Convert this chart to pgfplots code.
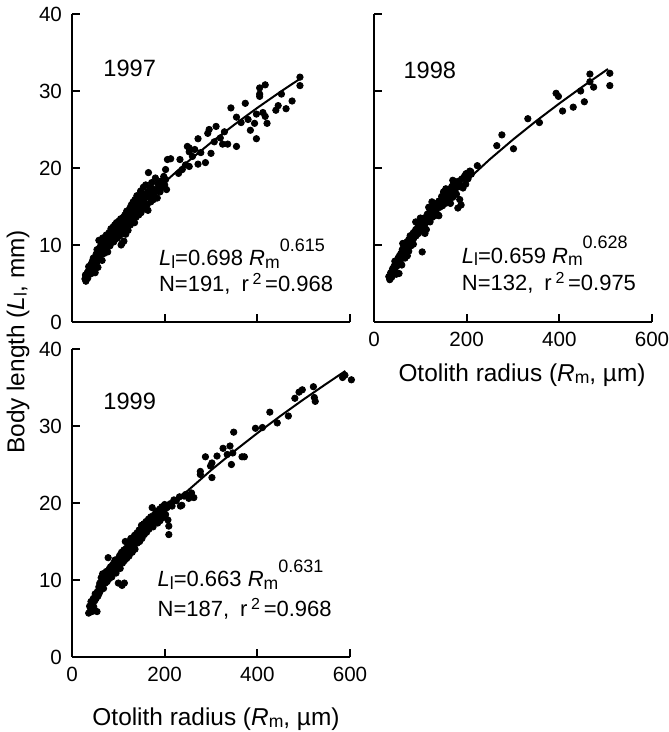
\documentclass[border=0pt]{standalone}
\usepackage{fontspec}
\setmainfont{Liberation Sans}
\usepackage{pgfplots}
\pgfplotsset{compat=1.18}

\newcommand{\fs}{\fontsize{11}{13}\selectfont}
\newcommand{\fyear}{\fontsize{11.8}{14}\selectfont}
\newcommand{\flab}{\fontsize{12.2}{14}\selectfont}
% sub- and superscripts sized and placed as in the figure
\newcommand{\sub}[1]{\raisebox{-1.2pt}{\fontsize{8.8}{10}\selectfont #1}}
\newcommand{\expo}[1]{\raisebox{7.3pt}{\fontsize{9}{10}\selectfont #1}}
\newcommand{\sq}{\raisebox{3.5pt}{\fontsize{8}{9}\selectfont 2}}

\pgfplotsset{
  panel/.style={
    width=139pt, height=154pt, scale only axis,
    xmin=0, xmax=600, ymin=0, ymax=40,
    enlargelimits=false,
    xtick={0,200,400,600}, ytick={0,10,20,30,40},
    axis x line=bottom, axis y line=left,
    axis line style={-, line width=1.25pt},
    tick align=inside, major tick length=4pt,
    tick style={line width=1.1pt, black},
    tick label style={font=\fontsize{10.3}{12}\selectfont},
    /pgf/number format/assume math mode=true,
    xticklabel style={yshift=-1.5pt},
    yticklabel style={xshift=-1.5pt},
    clip=false,
  },
  dots/.style={only marks, mark=*, mark size=1.6pt, black},
  fit/.style={no marks, black, line width=1pt},
}
\tikzset{
  txt/.style={anchor=base west, inner sep=0pt, font=\fs},
  yr/.style={anchor=base west, inner sep=0pt, font=\fyear},
}

\begin{document}
\begin{tikzpicture}
\path[use as bounding box] (0,0) rectangle (334pt,366pt);

% ---- 1997 ----
\begin{axis}[panel, at={(36pt,205pt)}, anchor=south west, xticklabels={}]
\addplot[dots] coordinates {
(28,5.6)(29,6.1)(30,5.3)(31,5.9)(33,6.4)(34,5.7)(35,6.6)(36,7.2)(38,6.2)(39,7.0)
(40,6.8)(41,7.5)(42,6.3)(44,7.9)(45,7.2)(46,8.3)(47,6.9)(48,7.6)(50,8.1)(50,6.4)
(52,8.8)(53,7.7)(54,9.4)(55,8.4)(56,7.1)(57,9.0)(58,10.6)(59,8.2)(60,9.7)(62,8.8)
(63,10.1)(64,9.3)(65,8.0)(66,10.9)(67,9.6)
(68,10.2)(69,8.9)(70,9.9)(71,10.8)(72,9.4)(73,10.4)(74,11.3)(75,9.8)(76,10.6)(77,9.1)
(78,11.0)(79,10.2)(80,11.6)(81,10.7)(82,9.9)(83,11.2)(84,12.1)(85,10.5)(86,11.5)(87,10.9)
(88,12.3)(89,11.1)(90,10.4)(91,11.8)(92,12.6)(93,11.3)(94,10.8)(95,12.0)(96,12.9)(97,11.6)
(98,10.9)(99,12.3)(100,11.7)(101,13.1)(102,12.0)(103,11.2)(104,12.7)(105,13.4)(106,11.9)(106,10.0)
(107,12.4)(108,10.2)(109,13.0)(110,12.2)(111,13.6)(112,11.7)(112,10.5)(113,12.8)(114,13.9)(115,12.5)
(116,11.4)(117,13.2)(118,14.4)(119,12.9)(120,13.5)(121,11.9)(122,14.1)
(124,13.0)(125,14.8)(126,12.6)(127,13.7)(128,15.2)(129,14.2)(130,13.3)(131,14.9)(132,15.6)(133,13.8)
(134,14.5)(135,12.9)(136,15.9)(137,14.3)(138,13.6)(139,15.1)(140,16.4)(141,14.0)(142,14.8)(143,15.5)
(144,13.9)(145,16.2)(146,14.6)(147,15.3)(148,17.0)(149,14.2)(150,15.8)(152,16.6)(153,15.0)(154,17.5)
(155,14.7)(156,16.1)(158,15.4)(159,17.8)(160,16.5)(162,15.2)(163,16.9)(164,14.5)(165,19.4)(166,16.2)
(168,17.4)(170,15.6)(172,18.1)(173,16.8)(175,17.3)(176,15.9)(178,16.4)(180,18.7)(182,17.1)(184,16.1)
(185,18.0)(188,17.6)(190,16.9)(192,18.3)(195,17.5)(198,18.9)(200,17.8)(202,19.8)(202,18.5)(204,17.2)
(206,21.1)(213,21.2)(230,19.3)(233,21.1)(238,19.8)(245,20.4)(249,22.8)(253,22.6)(253,22.1)(253,20.2)
(260,21.5)(265,22.4)(272,20.5)(272,23.8)(278,22.0)(288,20.7)(293,24.5)(296,25.0)(300,21.9)(307,23.4)
(311,25.4)(320,23.9)(325,23.1)(329,24.7)(336,23.1)(343,27.8)(355,22.8)(355,26.6)(365,25.9)(374,28.4)
(380,26.3)(385,24.9)(394,25.8)(398,23.8)(398,27.0)(405,30.4)(405,29.6)(405,29.3)(412,27.2)(417,26.7)
(417,30.8)(421,25.8)(440,27.5)(445,28.1)(452,29.6)(462,27.7)(475,28.7)(492,31.8)(492,30.7)
};
\addplot[fit] coordinates {
(30,5.65)(40,6.75)(50,7.74)(60,8.66)(70,9.52)(80,10.33)(90,11.11)(100,11.85)(120,13.26)(140,14.58)
(160,15.83)(180,17.02)(200,18.16)(250,20.83)(300,23.30)(350,25.61)(400,27.81)(450,29.90)(495,31.70)
};
\node[yr] at (axis cs:67,31.9) {1997};
\node[txt] at (axis cs:187,7.3)
  {\textit{L}\sub{l}=0.698 \textit{R}\sub{m}\expo{0.615}};
\node[txt] at (axis cs:187,3.9)
  {N=191,\enspace r\,\sq\,=0.968};
\end{axis}

% ---- 1998 ----
\begin{axis}[panel, at={(187pt,205pt)}, anchor=south west, yticklabels={}]
\addplot[dots] coordinates {
(32,5.9)(34,5.5)(36,6.4)(38,5.8)(40,6.9)(41,6.3)(43,7.2)(45,6.8)(46,7.6)(48,6.2)
(49,7.9)(50,7.3)(52,8.3)(53,7.7)(54,6.3)(55,8.6)(57,8.0)(58,8.9)(60,8.4)(61,9.4)
(63,8.8)(64,9.9)(65,9.1)(67,8.3)(68,10.0)(70,9.5)(71,10.4)(72,8.6)(73,9.8)(75,10.7)
(76,10.1)(78,11.2)(79,10.4)(80,9.9)(82,11.0)(83,10.6)(85,11.6)(86,10.9)(88,11.4)(90,12.0)
(91,11.2)(93,11.7)(95,12.4)(96,11.5)(98,12.1)(100,12.8)(101,11.9)(103,12.4)(104,9.1)(105,13.1)
(107,12.5)(108,13.5)(110,12.7)(112,13.3)(113,12.0)(115,14.0)(116,13.1)(118,13.7)(120,14.3)(121,13.0)
(123,13.9)(125,14.7)(126,13.6)(128,14.3)(130,15.0)(131,13.8)(133,14.5)(135,15.4)(137,14.9)(138,13.9)
(140,15.7)(142,14.9)(144,15.5)(146,16.3)(148,15.1)(150,15.8)(152,16.7)(154,15.4)(156,16.2)(158,17.1)
(160,16.5)(162,15.6)(164,17.3)(166,16.8)(168,17.6)(170,16.2)(172,17.9)(174,17.0)(176,18.2)(178,16.6)
(180,17.5)(181,14.8)(183,18.3)(185,15.9)(186,17.8)(188,15.2)(190,18.6)(192,17.4)(195,18.9)(198,17.9)
(198,19.2)(200,19.3)(203,18.6)(207,19.6)(209,19.5)(210,19.2)(223,20.3)
(45,7.9)(60,7.4)(75,9.2)(90,13.0)(110,11.5)(125,15.6)(140,13.8)(150,16.9)(165,15.4)(170,18.4)
(155,17.3)(118,14.9)(85,10.1)(62,10.2)(100,13.5)(135,14.1)
(265,22.9)(276,24.3)(301,22.5)(332,26.4)(357,25.9)(393,29.7)(398,29.3)(407,27.4)(430,27.9)(446,30.0)
(454,28.6)(466,32.2)(466,31.2)(474,30.5)(509,32.3)(509,30.7)
};
\addplot[fit] coordinates {
(30,5.58)(40,6.68)(50,7.69)(60,8.62)(80,10.33)(100,11.88)(120,13.32)(140,14.68)(160,15.96)(180,17.19)
(200,18.36)(250,21.13)(300,23.69)(350,26.10)(400,28.38)(450,30.56)(500,32.65)(505,32.85)
};
\node[yr] at (axis cs:63,31.6) {1998};
\node[txt] at (axis cs:189,7.6)
  {\textit{L}\sub{l}=0.659 \textit{R}\sub{m}\expo{0.628}};
\node[txt] at (axis cs:189,4.1)
  {N=132,\enspace r\,\sq\,=0.975};
\end{axis}

% ---- 1999 ----
\begin{axis}[panel, at={(36pt,37.5pt)}, anchor=south west]
\addplot[dots] coordinates {
(36,5.7)(38,6.6)(40,6.3)(41,7.2)(43,5.9)(44,6.9)(46,7.6)(47,6.5)(49,7.3)(50,8.2)
(52,7.6)(54,5.9)(55,8.5)(56,7.9)(58,9.1)(59,8.3)(60,9.6)(62,8.7)(63,10.3)(64,9.2)
(66,10.8)(67,9.5)(68,8.9)(70,10.1)(71,10.7)(72,9.6)(74,11.1)(75,10.3)(76,9.8)(78,12.9)
(78,10.9)(80,11.4)(81,10.2)(83,11.7)(84,10.8)(86,10.4)(87,11.9)(88,11.3)(90,12.2)(91,11.0)
(93,12.6)(94,11.6)(95,10.9)(97,12.3)(98,11.7)(100,9.6)(100,12.8)(101,12.0)(103,13.2)(104,11.5)
(106,12.6)(107,13.6)(108,9.3)(109,12.2)(110,13.0)(112,13.9)(113,9.6)(113,12.5)(115,15.0)(115,13.3)
(117,14.1)(118,12.8)(120,13.7)(121,14.5)(123,13.1)(124,14.9)(126,13.9)(127,15.4)(129,14.3)(130,13.6)
(132,15.1)(133,14.5)(135,15.8)(136,14.0)(138,15.3)(140,16.1)(141,14.8)(143,15.6)(145,16.5)(146,15.0)
(148,16.0)(150,17.1)(151,15.4)(153,16.4)(155,17.3)(156,15.9)(158,16.8)(160,17.6)(161,16.2)(163,17.0)
(165,17.9)(166,16.6)(168,17.3)(170,18.2)(172,17.5)(173,19.4)(175,16.9)(176,17.8)(178,18.5)(180,17.9)
(182,18.9)(184,18.8)(185,17.4)(187,18.3)(189,19.2)(190,17.7)(192,18.6)(194,19.5)(196,18.1)(198,19.0)
(200,19.8)(202,18.5)(205,19.4)(207,17.8)(209,17.0)(209,15.9)(212,19.9)(216,19.6)(220,20.4)(225,20.3)
(232,20.8)(234,19.6)(237,19.7)(242,20.9)(245,21.1)(248,21.0)(252,20.6)(258,21.3)(263,20.7)
(277,24.1)(277,23.7)(288,26.0)(299,24.8)(302,25.2)(302,23.3)(313,26.1)(326,27.1)(335,26.3)(341,27.4)
(344,25.0)(347,26.5)(349,29.2)(367,26.0)(372,26.0)(396,29.7)(411,29.8)(427,31.8)(443,30.4)(467,31.3)
(481,33.6)(490,34.4)(497,34.7)(521,35.1)(523,33.7)(525,33.2)(584,36.3)(589,36.6)(603,36.0)
};
\addplot[fit] coordinates {
(35,6.25)(40,6.80)(50,7.83)(60,8.78)(80,10.53)(100,12.12)(120,13.60)(140,14.99)(160,16.30)(180,17.56)
(200,18.77)(250,21.61)(300,24.25)(350,26.72)(400,29.07)(450,31.31)(500,33.46)(550,35.53)(590,37.14)
};
\node[yr] at (axis cs:67,32.2) {1999};
\node[txt] at (axis cs:184,9.1)
  {\textit{L}\sub{l}=0.663 \textit{R}\sub{m}\expo{0.631}};
\node[txt] at (axis cs:184,5.2)
  {N=187,\enspace r\,\sq\,=0.968};
\end{axis}

% shared labels
\node[rotate=90, font=\flab] at (9pt,195pt) {Body length (\textit{L}\sub{l}, mm)};
\node[font=\flab] at (261pt,178.5pt) {Otolith radius (\textit{R}\sub{m}, µm)};
\node[font=\flab] at (108pt,6.5pt) {Otolith radius (\textit{R}\sub{m}, µm)};
\end{tikzpicture}
\end{document}
